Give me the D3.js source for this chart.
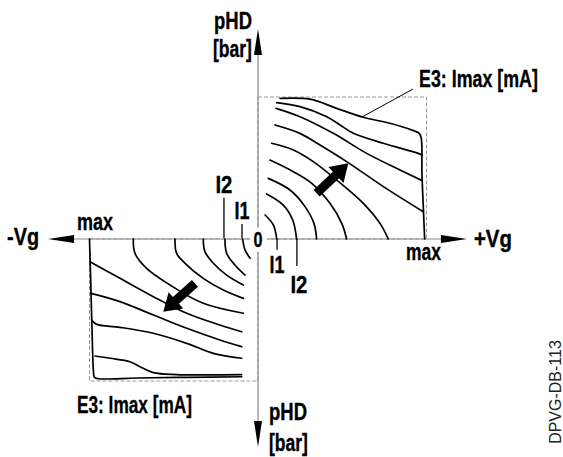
<!DOCTYPE html>
<html><head><meta charset="utf-8">
<script src="https://cdn.jsdelivr.net/npm/d3@7"></script>
<style>html,body{margin:0;padding:0;background:#fff;} svg{display:block;}</style>
</head><body><svg id="c" width="563" height="457"></svg>
<script>
// Normalised units: u = gate voltage (-max .. +max = -1 .. 1), v = pHD (-max .. +max = -1 .. 1)
const xDomain = [-1, 1];
const yDomain = [-1, 1];
const axisExtentX = [-1.246, 1.240];
const axisExtentY = [-1.465, 1.479];
const rightTicks = [ {label: "I1", u: 0.113, len: -0.075}, {label: "I2", u: 0.231, len: -0.19} ];
const leftTicks  = [ {label: "I1", u: -0.095, len: 0.105}, {label: "I2", u: -0.202, len: 0.29} ];
const maxTicks = [-1, 1];
const leaderLine = [[0.617, 0.859], [0.920, 1.056]];

// characteristic curves, top-right quadrant (+Vg / +pHD)
const topRightCurves = [
  [[0.131,0.99],[0.309,0.985],[0.467,0.920],[0.625,0.857],[0.783,0.815],[0.922,0.763],[0.957,0.744],[0.969,0.709],[0.973,0.462],[0.981,0.228],[0.989,0]],
  [[0.111,0.960],[0.249,0.932],[0.408,0.861],[0.487,0.803],[0.566,0.744],[0.744,0.674],[0.951,0.603],[0.973,0.592]],
  [[0.107,0.920],[0.249,0.861],[0.447,0.744],[0.645,0.603],[0.843,0.486],[0.975,0.411]],
  [[0.101,0.803],[0.249,0.744],[0.368,0.662],[0.526,0.545],[0.744,0.369],[0.981,0.192]],
  [[0.081,0.674],[0.210,0.627],[0.328,0.545],[0.467,0.415],[0.625,0.251],[0.724,0.110],[0.773,0]],
  [[0.071,0.556],[0.210,0.474],[0.319,0.392],[0.427,0.251],[0.497,0.110],[0.526,0]],
  [[0.061,0.427],[0.190,0.345],[0.279,0.228],[0.332,0.110],[0.348,0]],
  [[0.051,0.317],[0.150,0.239],[0.206,0.134],[0.229,0]],
  [[0.042,0.169],[0.091,0.099],[0.111,0]]
];
// characteristic curves, bottom-left quadrant (-Vg / -pHD)
const bottomLeftCurves = [
  [[-1.0,0],[-0.993,-0.289],[-0.985,-0.641],[-0.977,-0.923],[-0.971,-0.974],[-0.948,-0.984],[-0.720,-0.979],[-0.423,-0.974],[-0.097,-0.970]],
  [[-0.967,-0.824],[-0.878,-0.840],[-0.760,-0.864],[-0.700,-0.899],[-0.621,-0.941],[-0.483,-0.955],[-0.285,-0.957],[-0.097,-0.955]],
  [[-0.985,-0.575],[-0.957,-0.601],[-0.819,-0.622],[-0.621,-0.664],[-0.423,-0.735],[-0.265,-0.805],[-0.097,-0.840]],
  [[-0.991,-0.383],[-0.819,-0.441],[-0.621,-0.535],[-0.423,-0.629],[-0.226,-0.711],[-0.097,-0.758]],
  [[-0.997,-0.160],[-0.819,-0.277],[-0.621,-0.406],[-0.423,-0.523],[-0.226,-0.606],[-0.097,-0.653]],
  [[-0.740,0],[-0.730,-0.101],[-0.661,-0.207],[-0.522,-0.324],[-0.325,-0.453],[-0.087,-0.523]],
  [[-0.493,0],[-0.483,-0.101],[-0.433,-0.171],[-0.325,-0.277],[-0.206,-0.359],[-0.087,-0.418]],
  [[-0.325,0],[-0.315,-0.089],[-0.265,-0.171],[-0.186,-0.254],[-0.087,-0.324]],
  [[-0.196,0],[-0.186,-0.101],[-0.137,-0.183],[-0.077,-0.254]],
  [[-0.091,0],[-0.077,-0.077],[-0.047,-0.136]]
];
// direction arrows (tail -> tip)
const arrows = [
  [[0.348, 0.322], [0.536, 0.533]],
  [[-0.374, -0.312], [-0.562, -0.512]]
];

const svg = d3.select("#c");
const x = d3.scaleLinear().domain(xDomain).range([89.5, 426.5]);
const y = d3.scaleLinear().domain(yDomain).range([381, 97]);
const FONT = "'Liberation Sans Narrow','Liberation Sans',Arial,sans-serif";
const AXC = "#8a8a8a";

// dashed boxes
svg.append("rect").attr("x", x(0)).attr("y", y(1)).attr("width", x(1) - x(0)).attr("height", y(0) - y(1))
  .attr("fill", "none").attr("stroke", "#9a9a9a").attr("stroke-width", 1).attr("stroke-dasharray", "4,2");
svg.append("rect").attr("x", x(-1)).attr("y", y(0)).attr("width", x(0) - x(-1)).attr("height", y(-1) - y(0))
  .attr("fill", "none").attr("stroke", "#9a9a9a").attr("stroke-width", 1).attr("stroke-dasharray", "4,2");

// axes
const headL = 26, headW = 4;
const x0 = x(0), y0 = y(0);
const xl = x(axisExtentX[0]), xr = x(axisExtentX[1]);
const yt = y(axisExtentY[1]), yb = y(axisExtentY[0]);
svg.append("line").attr("x1", xl + headL).attr("x2", xr - headL).attr("y1", y0).attr("y2", y0).attr("stroke", AXC).attr("stroke-width", 1.2);
svg.append("line").attr("x1", x0).attr("x2", x0).attr("y1", yt + headL).attr("y2", yb - headL).attr("stroke", AXC).attr("stroke-width", 1.2);
const heads = [
  [[xl, y0], [xl + headL, y0 - headW], [xl + headL, y0 + headW]],
  [[xr, y0], [xr - headL, y0 - headW], [xr - headL, y0 + headW]],
  [[x0, yt], [x0 - headW, yt + headL], [x0 + headW, yt + headL]],
  [[x0, yb], [x0 - headW, yb - headL], [x0 + headW, yb - headL]]
];
svg.selectAll("path.head").data(heads).join("path").attr("class", "head")
  .attr("d", d => "M" + d.map(p => p.join(",")).join("L") + "Z").attr("fill", "#000");

// curves
const line = d3.line().x(d => x(d[0])).y(d => y(d[1])).curve(d3.curveCatmullRom.alpha(0.5));
svg.selectAll("path.tr").data(topRightCurves).join("path").attr("class", "tr")
  .attr("d", line).attr("fill", "none").attr("stroke", "#000").attr("stroke-width", 1.7).attr("stroke-linecap", "round");
svg.selectAll("path.bl").data(bottomLeftCurves).join("path").attr("class", "bl")
  .attr("d", line).attr("fill", "none").attr("stroke", "#000").attr("stroke-width", 1.7).attr("stroke-linecap", "round");

// thick arrows
function arrowPath(a) {
  const tx = x(a[0][0]), ty = y(a[0][1]), px = x(a[1][0]), py = y(a[1][1]);
  const dx = px - tx, dy = py - ty, L = Math.hypot(dx, dy);
  const ux = dx / L, uy = dy / L, nx = -uy, ny = ux;
  const hl = 17, hw = 11, sw = 4.5;
  const bx = px - ux * hl, by = py - uy * hl;
  const pts = [
    [tx + nx * sw, ty + ny * sw], [bx + nx * sw, by + ny * sw], [bx + nx * hw, by + ny * hw],
    [px, py], [bx - nx * hw, by - ny * hw], [bx - nx * sw, by - ny * sw], [tx - nx * sw, ty - ny * sw]
  ];
  return "M" + pts.map(p => p.join(",")).join("L") + "Z";
}
svg.selectAll("path.arr").data(arrows).join("path").attr("class", "arr").attr("d", arrowPath).attr("fill", "#000");

// I1 / I2 ticks
svg.selectAll("line.rt").data(rightTicks).join("line").attr("class", "rt")
  .attr("x1", d => x(d.u)).attr("x2", d => x(d.u)).attr("y1", y0).attr("y2", d => y(d.len))
  .attr("stroke", "#000").attr("stroke-width", 1.3);
svg.selectAll("line.lt").data(leftTicks).join("line").attr("class", "lt")
  .attr("x1", d => x(d.u)).attr("x2", d => x(d.u)).attr("y1", y0 - 1).attr("y2", d => y(d.len))
  .attr("stroke", "#000").attr("stroke-width", 1.3);

// leader line
svg.append("line").attr("x1", x(leaderLine[0][0])).attr("y1", y(leaderLine[0][1]))
  .attr("x2", x(leaderLine[1][0])).attr("y2", y(leaderLine[1][1])).attr("stroke", "#000").attr("stroke-width", 1);

// white patch behind origin label
svg.append("rect").attr("x", x0 - 8).attr("y", y0 - 11).attr("width", 17).attr("height", 24).attr("fill", "#fff");

// condensed bold label: natural text horizontally scaled to the measured width
function label(txt, cx, base, w, size, anchor) {
  let sx = cx;
  if (anchor === "middle") sx = cx - w / 2;
  if (anchor === "end") sx = cx - w;
  const g = svg.append("g");
  const t = g.append("text").attr("x", 0).attr("y", 0).attr("font-family", FONT).attr("font-weight", "bold")
    .attr("font-size", size).attr("fill", "#000").attr("stroke", "#000").attr("stroke-width", 0.35).text(txt);
  const nat = t.node().getComputedTextLength() || w;
  g.attr("transform", "translate(" + sx + "," + base + ") scale(" + (w / nat) + ",1)");
  return t;
}
// axis titles
label("pHD", x0 - 6, y0 - 210, 38, 23, "end");
label("[bar]", x0 - 6, y0 - 182, 39, 23, "end");
label("pHD", x0 + 11, y0 + 181, 38, 23, "start");
label("[bar]", x0 + 11, y0 + 212, 39, 23, "start");
label("-Vg", xl - 41, y0 + 6, 32, 24, "start");
label("+Vg", xr + 7, y0 + 8, 38, 24, "start");
label("0", x0, y0 + 8, 9, 22, "middle");
// max labels
label("max", x(maxTicks[0]) + 5.5, y0 - 9, 36, 24, "middle");
label("max", x(maxTicks[1]) - 3, y0 + 21, 35, 24, "middle");
// current tick labels
rightTicks.forEach((d, i) => label(d.label, x(d.u) + (i ? 2 : 0), i ? y0 + 54 : y0 + 34, i ? 17 : 15, 24, "middle"));
leftTicks.forEach((d, i) => label(d.label, x(d.u), i ? y0 - 46 : y0 - 20, i ? 17 : 15, 24, "middle"));
// E3 labels
label("E3: Imax [mA]", 419, 87, 119, 24, "start");
label("E3: Imax [mA]", 77, 413, 115, 24, "start");
// drawing id
svg.append("text").attr("transform", "translate(561,392) rotate(-90)").attr("text-anchor", "middle")
  .attr("font-family", "'Liberation Sans',Arial,sans-serif").attr("font-size", 16).attr("fill", "#222").text("DPVG-DB-113");
</script>
</body></html>
